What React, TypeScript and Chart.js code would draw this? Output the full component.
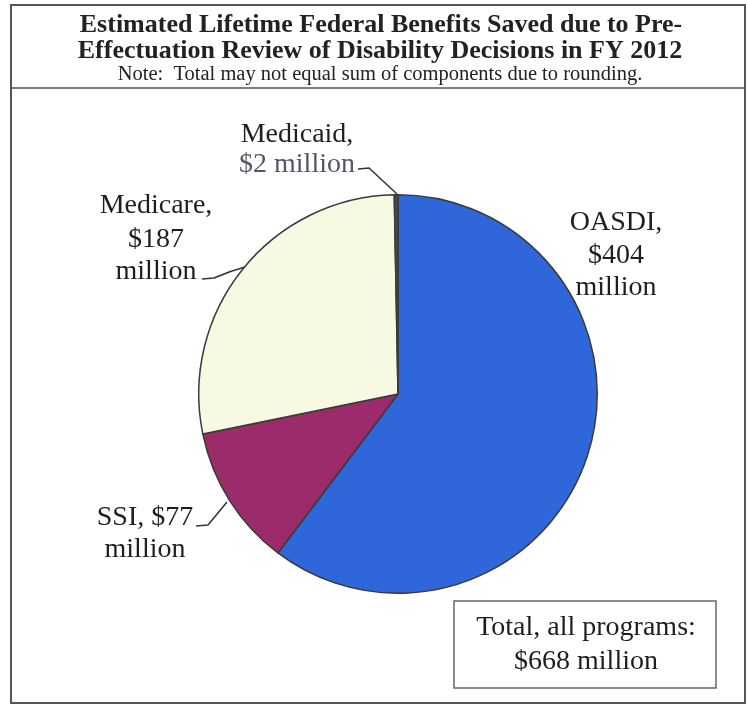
import React, { useEffect, useRef } from "react";
import { Chart, registerables } from "chart.js";

Chart.register(...registerables);

const categories = ["OASDI", "SSI", "Medicare", "Medicaid"];
const valuesMillions = [404, 77, 187, 2];
const sliceColors = ["#2f67da", "#9b2b6b", "#f8f9e2", "#4a4a4a"];
const titleLines = [
  "Estimated Lifetime Federal Benefits Saved due to Pre-",
  "Effectuation Review of Disability Decisions in FY 2012",
];
const noteText = "Note:  Total may not equal sum of components due to rounding.";
const sliceLabels = [
  ["OASDI,", "$404", "million"],
  ["SSI, $77", "million"],
  ["Medicare,", "$187", "million"],
  ["Medicaid,", "$2 million"],
];
const totalLines = ["Total, all programs:", "$668 million"];

const W = 747;
const H = 709;
const SERIF = '"Liberation Serif", "Times New Roman", serif';

const overlayPlugin = {
  id: "overlay",
  afterDraw(chart: any) {
    const ctx = chart.ctx as CanvasRenderingContext2D;
    ctx.save();
    // frame
    ctx.strokeStyle = "#555";
    ctx.lineWidth = 2;
    ctx.strokeRect(11, 5, 734, 698);
    ctx.lineWidth = 1.5;
    ctx.beginPath();
    ctx.moveTo(11, 88);
    ctx.lineTo(745, 88);
    ctx.stroke();

    // title
    ctx.fillStyle = "#222";
    ctx.textAlign = "center";
    ctx.textBaseline = "alphabetic";
    ctx.font = `bold 26px ${SERIF}`;
    ctx.fillText(titleLines[0], 381, 32);
    ctx.fillText(titleLines[1], 380, 58);
    ctx.font = `20.5px ${SERIF}`;
    ctx.fillText(noteText, 380, 80);

    // slice labels
    ctx.font = `28px ${SERIF}`;
    const labelSpec = [
      { x: 616, ys: [230, 263, 295] },
      { x: 145, ys: [525, 557] },
      { x: 156, ys: [213, 247, 279] },
      { x: 297, ys: [142, 172] },
    ];
    labelSpec.forEach((spec, i) => {
      sliceLabels[i].forEach((t, j) => {
        ctx.fillStyle = i === 3 && j === 1 ? "#55556a" : "#1e1e1e";
        ctx.fillText(t, spec.x, spec.ys[j]);
      });
    });

    // leader lines
    ctx.strokeStyle = "#333";
    ctx.lineWidth = 1.5;
    ctx.beginPath();
    ctx.moveTo(358, 169);
    ctx.lineTo(369, 168);
    ctx.lineTo(397, 194);
    ctx.stroke();
    ctx.beginPath();
    ctx.moveTo(202, 279);
    ctx.lineTo(214, 278);
    ctx.quadraticCurveTo(230, 271, 245, 267);
    ctx.stroke();
    ctx.beginPath();
    ctx.moveTo(196, 526);
    ctx.lineTo(208, 525);
    ctx.lineTo(227, 502);
    ctx.stroke();

    // total box
    ctx.strokeStyle = "#666";
    ctx.lineWidth = 1.5;
    ctx.strokeRect(454, 601, 262, 87);
    ctx.fillStyle = "#1e1e1e";
    ctx.font = `28px ${SERIF}`;
    ctx.fillText(totalLines[0], 586, 635);
    ctx.fillText(totalLines[1], 586, 669);
    ctx.restore();
  },
};

export default function App() {
  const ref = useRef<HTMLCanvasElement | null>(null);
  useEffect(() => {
    if (!ref.current) return;
    const chart = new Chart(ref.current, {
      type: "pie",
      data: {
        labels: categories,
        datasets: [
          {
            data: valuesMillions,
            backgroundColor: sliceColors,
            borderColor: "#3a3a3a",
            borderWidth: 1.5,
            hoverBorderWidth: 1.5,
          },
        ],
      },
      options: {
        responsive: false,
        animation: false,
        devicePixelRatio: 1,
        layout: { padding: { left: 198, right: 149, top: 194, bottom: 115 } },
        plugins: {
          legend: { display: false },
          tooltip: { enabled: false },
          title: { display: false },
        },
      },
      plugins: [overlayPlugin],
    });
    return () => chart.destroy();
  }, []);
  return (
    <div style={{ position: "fixed", left: 0, top: 0, width: W, height: H, background: "#fff" }}>
      <canvas ref={ref} width={W} height={H} style={{ width: W, height: H, display: "block" }} />
    </div>
  );
}
